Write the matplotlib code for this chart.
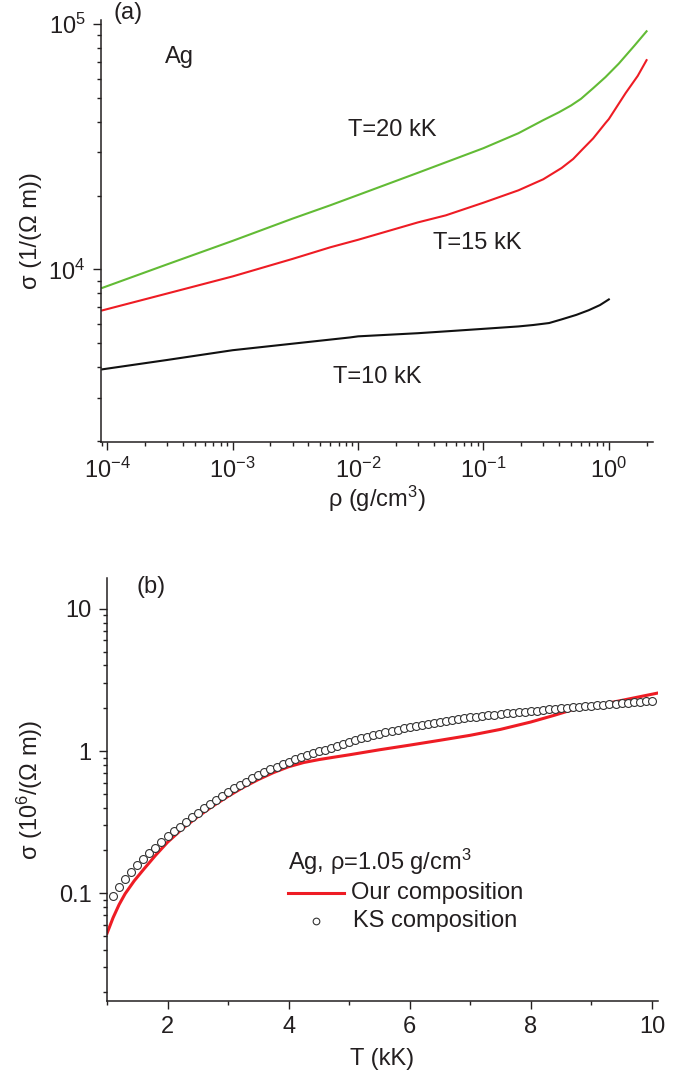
import matplotlib
matplotlib.use("Agg")
import matplotlib.pyplot as plt
from matplotlib.lines import Line2D
from matplotlib.ticker import FixedLocator, LogLocator, NullFormatter

plt.rcParams["font.family"] = ["Liberation Sans", "DejaVu Sans"]
plt.rcParams["mathtext.fontset"] = "custom"
plt.rcParams["mathtext.rm"] = "Liberation Sans"
plt.rcParams["mathtext.it"] = "Liberation Sans:italic"
plt.rcParams["mathtext.default"] = "regular"

INK = "#231f20"
FS = 17

# ---- panel (a): conductivity vs density ----
rho_20 = [9.1e-5, 3e-4, 1e-3, 3e-3, 6e-3, 1e-2, 3e-2, 0.1, 0.19, 0.3, 0.4, 0.5, 0.6,
          0.75, 0.94, 1.2, 1.6, 2.0]
sig_20 = [8400, 10480, 13070, 16100, 18250, 20100, 24760, 31200, 35900, 40600, 43700,
          46600, 49600, 54800, 60800, 69000, 81700, 93500]

rho_15 = [9.1e-5, 3e-4, 1e-3, 3e-3, 6e-3, 1e-2, 3e-2, 0.05, 0.1, 0.19, 0.3, 0.42,
          0.52, 0.61, 0.75, 0.94, 1.0, 1.36, 1.7, 2.0]
sig_15 = [6800, 7970, 9360, 11030, 12300, 13200, 15540, 16600, 18700, 21000, 23300,
          25900, 28200, 30700, 34200, 39500, 41000, 52300, 61500, 71300]

rho_10 = [9.1e-5, 3e-4, 1e-3, 3e-3, 8.6e-3, 1e-2, 3e-2, 0.06, 0.1, 0.19, 0.25, 0.334,
          0.42, 0.55, 0.69, 0.85, 1.0]
sig_10 = [3910, 4270, 4680, 4975, 5275, 5330, 5490, 5620, 5720, 5850, 5930, 6040,
          6250, 6520, 6810, 7150, 7540]

# ---- panel (b): conductivity vs temperature at rho = 1.05 g/cm3 ----
our_T = [1.0, 1.05, 1.1, 1.2, 1.3, 1.45, 1.6, 1.8, 2.0, 2.25, 2.5, 2.75, 3.0, 3.25,
         3.5, 3.75, 4.0, 4.25, 4.5, 4.75, 5.0, 5.5, 6.0, 6.5, 7.0, 7.5, 8.0, 8.4,
         8.75, 9.1, 9.5, 10.1]
our_sig = [0.052, 0.059, 0.067, 0.083, 0.099, 0.122, 0.146, 0.184, 0.228, 0.285,
           0.345, 0.41, 0.48, 0.555, 0.63, 0.705, 0.775, 0.83, 0.87, 0.905, 0.94,
           1.02, 1.10, 1.19, 1.29, 1.42, 1.60, 1.79, 1.99, 2.10, 2.27, 2.56]

ks_T = [1.1, 1.2, 1.3, 1.4, 1.5, 1.6, 1.7, 1.8, 1.9, 2.0,
        2.1, 2.2, 2.3, 2.4, 2.5, 2.6, 2.7, 2.8, 2.9, 3.0,
        3.1, 3.2, 3.3, 3.4, 3.5, 3.6, 3.7, 3.8, 3.9, 4.0,
        4.1, 4.2, 4.3, 4.4, 4.5, 4.6, 4.7, 4.8, 4.9, 5.0,
        5.1, 5.2, 5.3, 5.4, 5.5, 5.6, 5.7, 5.8, 5.9, 6.0,
        6.1, 6.2, 6.3, 6.4, 6.5, 6.6, 6.7, 6.8, 6.9, 7.0,
        7.1, 7.2, 7.3, 7.4, 7.5, 7.6, 7.7, 7.8, 7.9, 8.0,
        8.1, 8.2, 8.3, 8.4, 8.5, 8.6, 8.7, 8.8, 8.9, 9.0,
        9.1, 9.2, 9.3, 9.4, 9.5, 9.6, 9.7, 9.8, 9.9, 10.0]
ks_sig = [0.0951, 0.110, 0.125, 0.141, 0.157, 0.173, 0.191, 0.209, 0.229, 0.251,
          0.272, 0.294, 0.318, 0.342, 0.367, 0.395, 0.423, 0.452, 0.482, 0.513,
          0.545, 0.577, 0.610, 0.643, 0.676, 0.710, 0.743, 0.776, 0.809, 0.841,
          0.873, 0.904, 0.933, 0.964, 0.993, 1.023, 1.057, 1.089, 1.122, 1.156,
          1.191, 1.225, 1.259, 1.291, 1.324, 1.355, 1.387, 1.416, 1.445, 1.476,
          1.503, 1.531, 1.560, 1.585, 1.611, 1.633, 1.656, 1.679, 1.702, 1.722,
          1.742, 1.762, 1.782, 1.803, 1.824, 1.841, 1.858, 1.875, 1.892, 1.910,
          1.928, 1.945, 1.963, 1.982, 2.000, 2.018, 2.037, 2.051, 2.070, 2.089,
          2.104, 2.123, 2.138, 2.158, 2.173, 2.188, 2.208, 2.223, 2.239, 2.254]


def style_axes(ax):
    for side in ("top", "right"):
        ax.spines[side].set_visible(False)
    for side in ("left", "bottom"):
        ax.spines[side].set_linewidth(1.1)
        ax.spines[side].set_color(INK)
    ax.tick_params(which="both", direction="out", colors=INK, labelsize=FS, width=1.0, pad=5)
    ax.tick_params(which="major", length=6)
    ax.tick_params(which="minor", length=3.2)


fig = plt.figure(figsize=(6.88, 10.73), dpi=100)

# (a)
ax1 = fig.add_axes([0.1468, 0.588, 0.8023, 0.3934])
ax1.plot(rho_20, sig_20, color="#62bb35", lw=1.5)
ax1.plot(rho_15, sig_15, color="#ee1c24", lw=1.5)
ax1.plot(rho_10, sig_10, color="#111111", lw=1.5)
ax1.set_xscale("log")
ax1.set_yscale("log")
ax1.set_xlim(8.9e-5, 2.25)
ax1.set_ylim(1975, 1.04e5)
ax1.xaxis.set_major_locator(LogLocator(base=10, numticks=20))
ax1.xaxis.set_minor_locator(LogLocator(base=10, subs=range(2, 10), numticks=20))
ax1.yaxis.set_major_locator(FixedLocator([1e4, 1e5]))
ax1.yaxis.set_minor_locator(LogLocator(base=10, subs=range(2, 10), numticks=20))
ax1.xaxis.set_minor_formatter(NullFormatter())
ax1.yaxis.set_minor_formatter(NullFormatter())
ax1.set_yticklabels([r"$10^{4}$", r"$10^{5}$"])
style_axes(ax1)
ax1.set_xlabel(r"ρ (g/cm$^{3}$)", fontsize=FS, color=INK, va="top")
ax1.set_ylabel("σ (1/(Ω m))", fontsize=FS, color=INK)
ax1.xaxis.set_label_coords(0.5, -0.098)
ax1.yaxis.set_label_coords(-0.107, 0.5)

ax1.text(0.022, 1.017, "(a)", transform=ax1.transAxes, fontsize=FS, color=INK, va="center")
ax1.text(0.116, 0.912, "Ag", transform=ax1.transAxes, fontsize=FS, color=INK, va="center")
ax1.text(0.447, 0.739, "T=20 kK", transform=ax1.transAxes, fontsize=FS, color=INK, va="center")
ax1.text(0.601, 0.472, "T=15 kK", transform=ax1.transAxes, fontsize=FS, color=INK, va="center")
ax1.text(0.420, 0.154, "T=10 kK", transform=ax1.transAxes, fontsize=FS, color=INK, va="center")

# (b)
ax2 = fig.add_axes([0.1555, 0.0671, 0.8008, 0.3942])
ax2.plot(our_T, our_sig, color="#ee1c24", lw=2.2, zorder=2)
ax2.plot(ks_T, ks_sig, ls="none", marker="o", ms=5.7, mfc="white", mec="#333333", mew=0.8, zorder=3)
ax2.set_yscale("log")
ax2.set_xlim(1.0, 10.1)
ax2.set_ylim(0.0174, 16.5)
ax2.xaxis.set_major_locator(FixedLocator([2, 4, 6, 8, 10]))
ax2.xaxis.set_minor_locator(FixedLocator([1, 3, 5, 7, 9]))
ax2.yaxis.set_major_locator(FixedLocator([0.1, 1, 10]))
ax2.yaxis.set_minor_locator(LogLocator(base=10, subs=range(2, 10), numticks=20))
ax2.yaxis.set_minor_formatter(NullFormatter())
ax2.set_yticklabels(["0.1", "1", "10"])
style_axes(ax2)
ax2.set_xlabel("T (kK)", fontsize=FS, color=INK, va="top")
ax2.set_ylabel(r"σ (10$^{6}$/(Ω m))", fontsize=FS, color=INK)
ax2.xaxis.set_label_coords(0.5, -0.11)
ax2.yaxis.set_label_coords(-0.1125, 0.5)

ax2.text(0.054, 0.979, "(b)", transform=ax2.transAxes, fontsize=FS, color=INK, va="center")

# hand-built legend
ax2.text(0.328, 0.329, r"Ag, ρ=1.05 g/cm$^{3}$", transform=ax2.transAxes, fontsize=FS, color=INK, va="center")
ax2.add_line(Line2D([0.328, 0.430], [0.255, 0.255], transform=ax2.transAxes, color="#ee1c24", lw=2.2))
ax2.text(0.443, 0.255, "Our composition", transform=ax2.transAxes, fontsize=FS, color=INK, va="center")
ax2.add_line(Line2D([0.379], [0.189], transform=ax2.transAxes, ls="none", marker="o", ms=4.8,
                    mfc="white", mec="#333333", mew=0.8))
ax2.text(0.446, 0.189, "KS composition", transform=ax2.transAxes, fontsize=FS, color=INK, va="center")

fig.savefig("out.png", dpi=100)
